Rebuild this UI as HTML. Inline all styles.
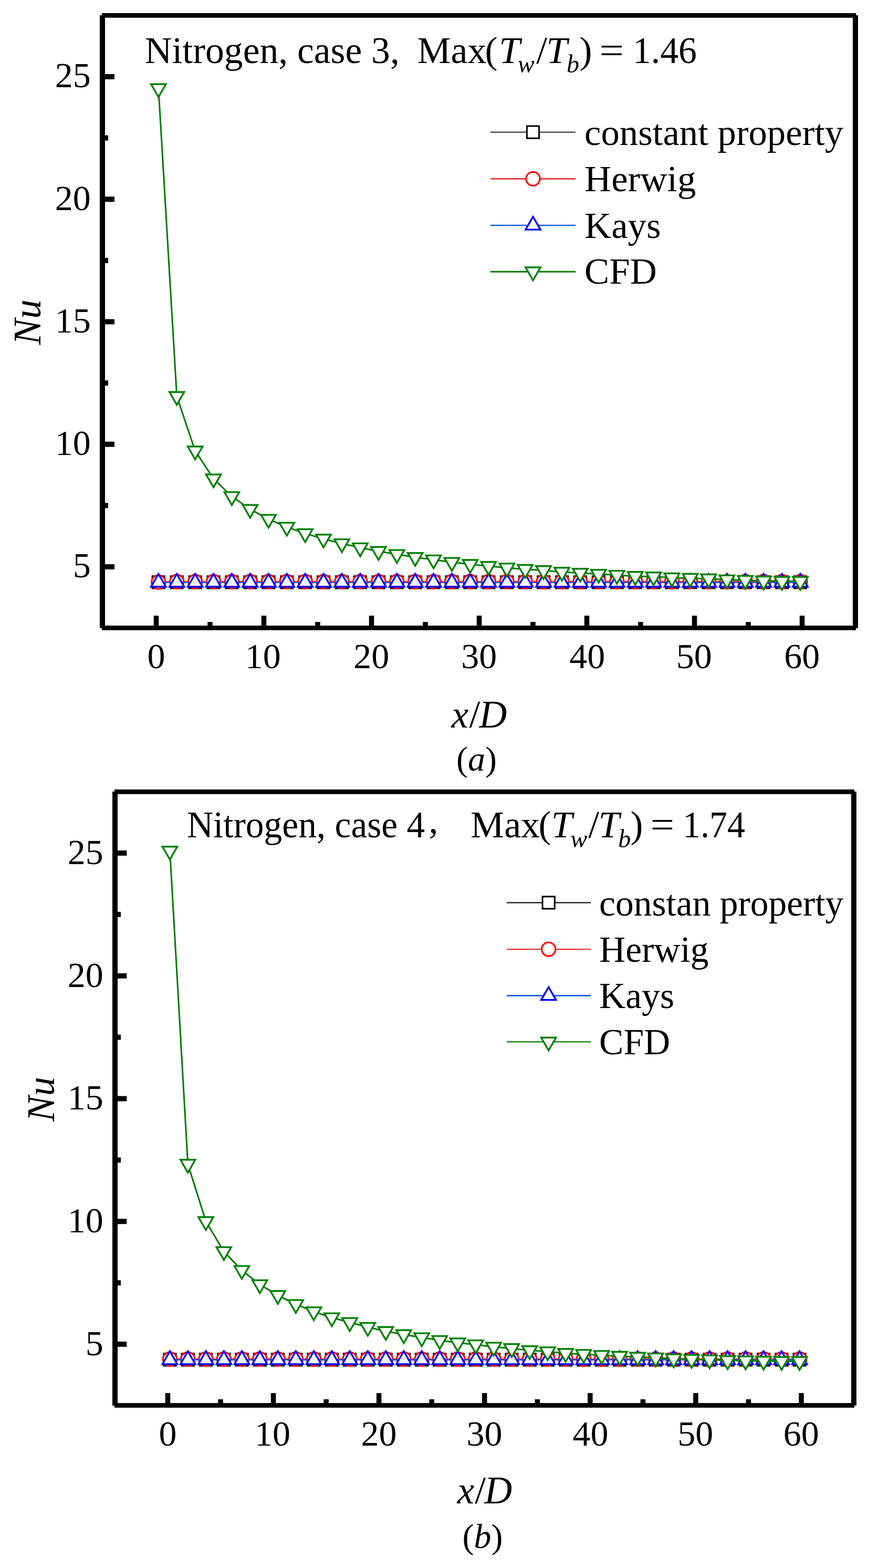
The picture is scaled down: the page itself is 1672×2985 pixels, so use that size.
<!DOCTYPE html>
<html><head><meta charset="utf-8"><title>Nu vs x/D</title>
<style>html,body{margin:0;padding:0;background:#fff;}svg{display:block;}</style>
</head><body>
<svg width="1672" height="2985" viewBox="0 0 1672 2985">
<rect width="1672" height="2985" fill="#fff"/>
<g font-family="'Liberation Serif', 'Times New Roman', serif" fill="#000">
<rect x="190" y="29" width="10" height="1166.7" fill="#000"/>
<rect x="1624" y="29" width="10" height="1166.7" fill="#000"/>
<rect x="194" y="25" width="1436" height="8.7" fill="#000"/>
<rect x="194" y="1191" width="1436" height="8.7" fill="#000"/>
<rect x="199" y="1074.05" width="19" height="9.9" fill="#000"/>
<rect x="199" y="840.8" width="19" height="9.9" fill="#000"/>
<rect x="199" y="607.55" width="19" height="9.9" fill="#000"/>
<rect x="199" y="374.3" width="19" height="9.9" fill="#000"/>
<rect x="199" y="141.05" width="19" height="9.9" fill="#000"/>
<rect x="199" y="957.42" width="7" height="9.9" fill="#000"/>
<rect x="199" y="724.17" width="7" height="9.9" fill="#000"/>
<rect x="199" y="490.93" width="7" height="9.9" fill="#000"/>
<rect x="199" y="257.68" width="7" height="9.9" fill="#000"/>
<rect x="292.75" y="1172" width="9.5" height="20" fill="#000"/>
<rect x="497.75" y="1172" width="9.5" height="20" fill="#000"/>
<rect x="702.75" y="1172" width="9.5" height="20" fill="#000"/>
<rect x="907.75" y="1172" width="9.5" height="20" fill="#000"/>
<rect x="1112.75" y="1172" width="9.5" height="20" fill="#000"/>
<rect x="1317.75" y="1172" width="9.5" height="20" fill="#000"/>
<rect x="1522.75" y="1172" width="9.5" height="20" fill="#000"/>
<rect x="395.25" y="1184" width="9.5" height="8" fill="#000"/>
<rect x="600.25" y="1184" width="9.5" height="8" fill="#000"/>
<rect x="805.25" y="1184" width="9.5" height="8" fill="#000"/>
<rect x="1010.25" y="1184" width="9.5" height="8" fill="#000"/>
<rect x="1215.25" y="1184" width="9.5" height="8" fill="#000"/>
<rect x="1420.25" y="1184" width="9.5" height="8" fill="#000"/>
<text x="138.72" y="1099.3" font-size="68">5</text>
<text x="104.65" y="866.05" font-size="68">10</text>
<text x="104.72" y="632.8" font-size="68">15</text>
<text x="104.65" y="399.55" font-size="68">20</text>
<text x="104.72" y="166.3" font-size="68">25</text>
<text x="280.53" y="1272.3" font-size="68">0</text>
<text x="466.83" y="1272.3" font-size="68">10</text>
<text x="673.33" y="1272.3" font-size="68">20</text>
<text x="878.19" y="1272.3" font-size="68">30</text>
<text x="1084.15" y="1272.3" font-size="68">40</text>
<text x="1287.85" y="1272.3" font-size="68">50</text>
<text x="1493.36" y="1272.3" font-size="68">60</text>
<polyline points="301.8,1108.4 1524,1108.4" fill="none" stroke="#3c3c3c" stroke-width="2.2" stroke-linejoin="round"/>
<rect x="290.2" y="1096.8" width="23.2" height="23.2" fill="#fff" stroke="#000" stroke-width="3.0"/>
<rect x="325.12" y="1096.8" width="23.2" height="23.2" fill="#fff" stroke="#000" stroke-width="3.0"/>
<rect x="360.04" y="1096.8" width="23.2" height="23.2" fill="#fff" stroke="#000" stroke-width="3.0"/>
<rect x="394.96" y="1096.8" width="23.2" height="23.2" fill="#fff" stroke="#000" stroke-width="3.0"/>
<rect x="429.88" y="1096.8" width="23.2" height="23.2" fill="#fff" stroke="#000" stroke-width="3.0"/>
<rect x="464.8" y="1096.8" width="23.2" height="23.2" fill="#fff" stroke="#000" stroke-width="3.0"/>
<rect x="499.72" y="1096.8" width="23.2" height="23.2" fill="#fff" stroke="#000" stroke-width="3.0"/>
<rect x="534.64" y="1096.8" width="23.2" height="23.2" fill="#fff" stroke="#000" stroke-width="3.0"/>
<rect x="569.56" y="1096.8" width="23.2" height="23.2" fill="#fff" stroke="#000" stroke-width="3.0"/>
<rect x="604.48" y="1096.8" width="23.2" height="23.2" fill="#fff" stroke="#000" stroke-width="3.0"/>
<rect x="639.4" y="1096.8" width="23.2" height="23.2" fill="#fff" stroke="#000" stroke-width="3.0"/>
<rect x="674.32" y="1096.8" width="23.2" height="23.2" fill="#fff" stroke="#000" stroke-width="3.0"/>
<rect x="709.24" y="1096.8" width="23.2" height="23.2" fill="#fff" stroke="#000" stroke-width="3.0"/>
<rect x="744.16" y="1096.8" width="23.2" height="23.2" fill="#fff" stroke="#000" stroke-width="3.0"/>
<rect x="779.08" y="1096.8" width="23.2" height="23.2" fill="#fff" stroke="#000" stroke-width="3.0"/>
<rect x="814" y="1096.8" width="23.2" height="23.2" fill="#fff" stroke="#000" stroke-width="3.0"/>
<rect x="848.92" y="1096.8" width="23.2" height="23.2" fill="#fff" stroke="#000" stroke-width="3.0"/>
<rect x="883.84" y="1096.8" width="23.2" height="23.2" fill="#fff" stroke="#000" stroke-width="3.0"/>
<rect x="918.76" y="1096.8" width="23.2" height="23.2" fill="#fff" stroke="#000" stroke-width="3.0"/>
<rect x="953.68" y="1096.8" width="23.2" height="23.2" fill="#fff" stroke="#000" stroke-width="3.0"/>
<rect x="988.6" y="1096.8" width="23.2" height="23.2" fill="#fff" stroke="#000" stroke-width="3.0"/>
<rect x="1023.52" y="1096.8" width="23.2" height="23.2" fill="#fff" stroke="#000" stroke-width="3.0"/>
<rect x="1058.44" y="1096.8" width="23.2" height="23.2" fill="#fff" stroke="#000" stroke-width="3.0"/>
<rect x="1093.36" y="1096.8" width="23.2" height="23.2" fill="#fff" stroke="#000" stroke-width="3.0"/>
<rect x="1128.28" y="1096.8" width="23.2" height="23.2" fill="#fff" stroke="#000" stroke-width="3.0"/>
<rect x="1163.2" y="1096.8" width="23.2" height="23.2" fill="#fff" stroke="#000" stroke-width="3.0"/>
<rect x="1198.12" y="1096.8" width="23.2" height="23.2" fill="#fff" stroke="#000" stroke-width="3.0"/>
<rect x="1233.04" y="1096.8" width="23.2" height="23.2" fill="#fff" stroke="#000" stroke-width="3.0"/>
<rect x="1267.96" y="1096.8" width="23.2" height="23.2" fill="#fff" stroke="#000" stroke-width="3.0"/>
<rect x="1302.88" y="1096.8" width="23.2" height="23.2" fill="#fff" stroke="#000" stroke-width="3.0"/>
<rect x="1337.8" y="1096.8" width="23.2" height="23.2" fill="#fff" stroke="#000" stroke-width="3.0"/>
<rect x="1372.72" y="1096.8" width="23.2" height="23.2" fill="#fff" stroke="#000" stroke-width="3.0"/>
<rect x="1407.64" y="1096.8" width="23.2" height="23.2" fill="#fff" stroke="#000" stroke-width="3.0"/>
<rect x="1442.56" y="1096.8" width="23.2" height="23.2" fill="#fff" stroke="#000" stroke-width="3.0"/>
<rect x="1477.48" y="1096.8" width="23.2" height="23.2" fill="#fff" stroke="#000" stroke-width="3.0"/>
<rect x="1512.4" y="1096.8" width="23.2" height="23.2" fill="#fff" stroke="#000" stroke-width="3.0"/>
<polyline points="301.8,1107.2 1524,1107.2" fill="none" stroke="#ee3333" stroke-width="2.4" stroke-linejoin="round"/>
<circle cx="301.8" cy="1108.2" r="13.1" fill="#fff" stroke="#ff0000" stroke-width="3.2"/>
<circle cx="336.72" cy="1107.2" r="13.1" fill="#fff" stroke="#ff0000" stroke-width="3.2"/>
<circle cx="371.64" cy="1107.2" r="13.1" fill="#fff" stroke="#ff0000" stroke-width="3.2"/>
<circle cx="406.56" cy="1107.2" r="13.1" fill="#fff" stroke="#ff0000" stroke-width="3.2"/>
<circle cx="441.48" cy="1107.2" r="13.1" fill="#fff" stroke="#ff0000" stroke-width="3.2"/>
<circle cx="476.4" cy="1107.2" r="13.1" fill="#fff" stroke="#ff0000" stroke-width="3.2"/>
<circle cx="511.32" cy="1107.2" r="13.1" fill="#fff" stroke="#ff0000" stroke-width="3.2"/>
<circle cx="546.24" cy="1107.2" r="13.1" fill="#fff" stroke="#ff0000" stroke-width="3.2"/>
<circle cx="581.16" cy="1107.2" r="13.1" fill="#fff" stroke="#ff0000" stroke-width="3.2"/>
<circle cx="616.08" cy="1107.2" r="13.1" fill="#fff" stroke="#ff0000" stroke-width="3.2"/>
<circle cx="651" cy="1107.2" r="13.1" fill="#fff" stroke="#ff0000" stroke-width="3.2"/>
<circle cx="685.92" cy="1107.2" r="13.1" fill="#fff" stroke="#ff0000" stroke-width="3.2"/>
<circle cx="720.84" cy="1107.2" r="13.1" fill="#fff" stroke="#ff0000" stroke-width="3.2"/>
<circle cx="755.76" cy="1107.2" r="13.1" fill="#fff" stroke="#ff0000" stroke-width="3.2"/>
<circle cx="790.68" cy="1107.2" r="13.1" fill="#fff" stroke="#ff0000" stroke-width="3.2"/>
<circle cx="825.6" cy="1107.2" r="13.1" fill="#fff" stroke="#ff0000" stroke-width="3.2"/>
<circle cx="860.52" cy="1107.2" r="13.1" fill="#fff" stroke="#ff0000" stroke-width="3.2"/>
<circle cx="895.44" cy="1107.2" r="13.1" fill="#fff" stroke="#ff0000" stroke-width="3.2"/>
<circle cx="930.36" cy="1107.2" r="13.1" fill="#fff" stroke="#ff0000" stroke-width="3.2"/>
<circle cx="965.28" cy="1107.2" r="13.1" fill="#fff" stroke="#ff0000" stroke-width="3.2"/>
<circle cx="1000.2" cy="1107.2" r="13.1" fill="#fff" stroke="#ff0000" stroke-width="3.2"/>
<circle cx="1035.12" cy="1107.2" r="13.1" fill="#fff" stroke="#ff0000" stroke-width="3.2"/>
<circle cx="1070.04" cy="1107.2" r="13.1" fill="#fff" stroke="#ff0000" stroke-width="3.2"/>
<circle cx="1104.96" cy="1107.2" r="13.1" fill="#fff" stroke="#ff0000" stroke-width="3.2"/>
<circle cx="1139.88" cy="1107.2" r="13.1" fill="#fff" stroke="#ff0000" stroke-width="3.2"/>
<circle cx="1174.8" cy="1107.2" r="13.1" fill="#fff" stroke="#ff0000" stroke-width="3.2"/>
<circle cx="1209.72" cy="1107.2" r="13.1" fill="#fff" stroke="#ff0000" stroke-width="3.2"/>
<circle cx="1244.64" cy="1107.2" r="13.1" fill="#fff" stroke="#ff0000" stroke-width="3.2"/>
<circle cx="1279.56" cy="1107.2" r="13.1" fill="#fff" stroke="#ff0000" stroke-width="3.2"/>
<circle cx="1314.48" cy="1107.2" r="13.1" fill="#fff" stroke="#ff0000" stroke-width="3.2"/>
<circle cx="1349.4" cy="1107.2" r="13.1" fill="#fff" stroke="#ff0000" stroke-width="3.2"/>
<circle cx="1384.32" cy="1107.2" r="13.1" fill="#fff" stroke="#ff0000" stroke-width="3.2"/>
<circle cx="1419.24" cy="1107.2" r="13.1" fill="#fff" stroke="#ff0000" stroke-width="3.2"/>
<circle cx="1454.16" cy="1107.2" r="13.1" fill="#fff" stroke="#ff0000" stroke-width="3.2"/>
<circle cx="1489.08" cy="1107.2" r="13.1" fill="#fff" stroke="#ff0000" stroke-width="3.2"/>
<circle cx="1524" cy="1107.2" r="13.1" fill="#fff" stroke="#ff0000" stroke-width="3.2"/>
<polyline points="301.8,1108.9 1524,1108.9" fill="none" stroke="#0560dc" stroke-width="2.4" stroke-linejoin="round"/>
<polygon points="301.8,1092.56 315.95,1117.07 287.65,1117.07" fill="#fff" stroke="#0000ff" stroke-width="3.4" stroke-linejoin="miter"/>
<polygon points="336.72,1092.56 350.87,1117.07 322.57,1117.07" fill="#fff" stroke="#0000ff" stroke-width="3.4" stroke-linejoin="miter"/>
<polygon points="371.64,1092.56 385.79,1117.07 357.49,1117.07" fill="#fff" stroke="#0000ff" stroke-width="3.4" stroke-linejoin="miter"/>
<polygon points="406.56,1092.56 420.71,1117.07 392.41,1117.07" fill="#fff" stroke="#0000ff" stroke-width="3.4" stroke-linejoin="miter"/>
<polygon points="441.48,1092.56 455.63,1117.07 427.33,1117.07" fill="#fff" stroke="#0000ff" stroke-width="3.4" stroke-linejoin="miter"/>
<polygon points="476.4,1092.56 490.55,1117.07 462.25,1117.07" fill="#fff" stroke="#0000ff" stroke-width="3.4" stroke-linejoin="miter"/>
<polygon points="511.32,1092.56 525.47,1117.07 497.17,1117.07" fill="#fff" stroke="#0000ff" stroke-width="3.4" stroke-linejoin="miter"/>
<polygon points="546.24,1092.56 560.39,1117.07 532.09,1117.07" fill="#fff" stroke="#0000ff" stroke-width="3.4" stroke-linejoin="miter"/>
<polygon points="581.16,1092.56 595.31,1117.07 567.01,1117.07" fill="#fff" stroke="#0000ff" stroke-width="3.4" stroke-linejoin="miter"/>
<polygon points="616.08,1092.56 630.23,1117.07 601.93,1117.07" fill="#fff" stroke="#0000ff" stroke-width="3.4" stroke-linejoin="miter"/>
<polygon points="651,1092.56 665.15,1117.07 636.85,1117.07" fill="#fff" stroke="#0000ff" stroke-width="3.4" stroke-linejoin="miter"/>
<polygon points="685.92,1092.56 700.07,1117.07 671.77,1117.07" fill="#fff" stroke="#0000ff" stroke-width="3.4" stroke-linejoin="miter"/>
<polygon points="720.84,1092.56 734.99,1117.07 706.69,1117.07" fill="#fff" stroke="#0000ff" stroke-width="3.4" stroke-linejoin="miter"/>
<polygon points="755.76,1092.56 769.91,1117.07 741.61,1117.07" fill="#fff" stroke="#0000ff" stroke-width="3.4" stroke-linejoin="miter"/>
<polygon points="790.68,1092.56 804.83,1117.07 776.53,1117.07" fill="#fff" stroke="#0000ff" stroke-width="3.4" stroke-linejoin="miter"/>
<polygon points="825.6,1092.56 839.75,1117.07 811.45,1117.07" fill="#fff" stroke="#0000ff" stroke-width="3.4" stroke-linejoin="miter"/>
<polygon points="860.52,1092.56 874.67,1117.07 846.37,1117.07" fill="#fff" stroke="#0000ff" stroke-width="3.4" stroke-linejoin="miter"/>
<polygon points="895.44,1092.56 909.59,1117.07 881.29,1117.07" fill="#fff" stroke="#0000ff" stroke-width="3.4" stroke-linejoin="miter"/>
<polygon points="930.36,1092.56 944.51,1117.07 916.21,1117.07" fill="#fff" stroke="#0000ff" stroke-width="3.4" stroke-linejoin="miter"/>
<polygon points="965.28,1092.56 979.43,1117.07 951.13,1117.07" fill="#fff" stroke="#0000ff" stroke-width="3.4" stroke-linejoin="miter"/>
<polygon points="1000.2,1092.56 1014.35,1117.07 986.05,1117.07" fill="#fff" stroke="#0000ff" stroke-width="3.4" stroke-linejoin="miter"/>
<polygon points="1035.12,1092.56 1049.27,1117.07 1020.97,1117.07" fill="#fff" stroke="#0000ff" stroke-width="3.4" stroke-linejoin="miter"/>
<polygon points="1070.04,1092.56 1084.19,1117.07 1055.89,1117.07" fill="#fff" stroke="#0000ff" stroke-width="3.4" stroke-linejoin="miter"/>
<polygon points="1104.96,1092.56 1119.11,1117.07 1090.81,1117.07" fill="#fff" stroke="#0000ff" stroke-width="3.4" stroke-linejoin="miter"/>
<polygon points="1139.88,1092.56 1154.03,1117.07 1125.73,1117.07" fill="#fff" stroke="#0000ff" stroke-width="3.4" stroke-linejoin="miter"/>
<polygon points="1174.8,1092.56 1188.95,1117.07 1160.65,1117.07" fill="#fff" stroke="#0000ff" stroke-width="3.4" stroke-linejoin="miter"/>
<polygon points="1209.72,1092.56 1223.87,1117.07 1195.57,1117.07" fill="#fff" stroke="#0000ff" stroke-width="3.4" stroke-linejoin="miter"/>
<polygon points="1244.64,1092.56 1258.79,1117.07 1230.49,1117.07" fill="#fff" stroke="#0000ff" stroke-width="3.4" stroke-linejoin="miter"/>
<polygon points="1279.56,1092.56 1293.71,1117.07 1265.41,1117.07" fill="#fff" stroke="#0000ff" stroke-width="3.4" stroke-linejoin="miter"/>
<polygon points="1314.48,1092.56 1328.63,1117.07 1300.33,1117.07" fill="#fff" stroke="#0000ff" stroke-width="3.4" stroke-linejoin="miter"/>
<polygon points="1349.4,1092.56 1363.55,1117.07 1335.25,1117.07" fill="#fff" stroke="#0000ff" stroke-width="3.4" stroke-linejoin="miter"/>
<polygon points="1384.32,1092.56 1398.47,1117.07 1370.17,1117.07" fill="#fff" stroke="#0000ff" stroke-width="3.4" stroke-linejoin="miter"/>
<polygon points="1419.24,1092.56 1433.39,1117.07 1405.09,1117.07" fill="#fff" stroke="#0000ff" stroke-width="3.4" stroke-linejoin="miter"/>
<polygon points="1454.16,1092.56 1468.31,1117.07 1440.01,1117.07" fill="#fff" stroke="#0000ff" stroke-width="3.4" stroke-linejoin="miter"/>
<polygon points="1489.08,1092.56 1503.23,1117.07 1474.93,1117.07" fill="#fff" stroke="#0000ff" stroke-width="3.4" stroke-linejoin="miter"/>
<polygon points="1524,1092.56 1538.15,1117.07 1509.85,1117.07" fill="#fff" stroke="#0000ff" stroke-width="3.4" stroke-linejoin="miter"/>
<polyline points="301.8,168.47 336.72,754.37 371.64,858.17 406.56,911.37 441.48,945.07 476.4,969.37 511.32,988.27 546.24,1003.27 581.16,1015.57 616.08,1025.87 651,1034.77 685.92,1042.57 720.84,1049.47 755.76,1055.27 790.68,1060.87 825.6,1065.57 860.52,1070.27 895.44,1074.17 930.36,1077.87 965.28,1081.07 1000.2,1083.67 1035.12,1085.87 1070.04,1088.97 1104.96,1090.87 1139.88,1092.87 1174.8,1094.77 1209.72,1096.97 1244.64,1097.87 1279.56,1099.67 1314.48,1100.67 1349.4,1101.67 1384.32,1103.57 1419.24,1104.57 1454.16,1105.67 1489.08,1106.47 1524,1106.47" fill="none" stroke="#007a00" stroke-width="3.0" stroke-linejoin="round"/>
<polygon points="301.8,184.81 315.95,160.3 287.65,160.3" fill="#fff" stroke="#008000" stroke-width="3.4" stroke-linejoin="miter"/>
<polygon points="336.72,770.71 350.87,746.2 322.57,746.2" fill="#fff" stroke="#008000" stroke-width="3.4" stroke-linejoin="miter"/>
<polygon points="371.64,874.51 385.79,850 357.49,850" fill="#fff" stroke="#008000" stroke-width="3.4" stroke-linejoin="miter"/>
<polygon points="406.56,927.71 420.71,903.2 392.41,903.2" fill="#fff" stroke="#008000" stroke-width="3.4" stroke-linejoin="miter"/>
<polygon points="441.48,961.41 455.63,936.9 427.33,936.9" fill="#fff" stroke="#008000" stroke-width="3.4" stroke-linejoin="miter"/>
<polygon points="476.4,985.71 490.55,961.2 462.25,961.2" fill="#fff" stroke="#008000" stroke-width="3.4" stroke-linejoin="miter"/>
<polygon points="511.32,1004.61 525.47,980.1 497.17,980.1" fill="#fff" stroke="#008000" stroke-width="3.4" stroke-linejoin="miter"/>
<polygon points="546.24,1019.61 560.39,995.1 532.09,995.1" fill="#fff" stroke="#008000" stroke-width="3.4" stroke-linejoin="miter"/>
<polygon points="581.16,1031.91 595.31,1007.4 567.01,1007.4" fill="#fff" stroke="#008000" stroke-width="3.4" stroke-linejoin="miter"/>
<polygon points="616.08,1042.21 630.23,1017.7 601.93,1017.7" fill="#fff" stroke="#008000" stroke-width="3.4" stroke-linejoin="miter"/>
<polygon points="651,1051.11 665.15,1026.6 636.85,1026.6" fill="#fff" stroke="#008000" stroke-width="3.4" stroke-linejoin="miter"/>
<polygon points="685.92,1058.91 700.07,1034.4 671.77,1034.4" fill="#fff" stroke="#008000" stroke-width="3.4" stroke-linejoin="miter"/>
<polygon points="720.84,1065.81 734.99,1041.3 706.69,1041.3" fill="#fff" stroke="#008000" stroke-width="3.4" stroke-linejoin="miter"/>
<polygon points="755.76,1071.61 769.91,1047.1 741.61,1047.1" fill="#fff" stroke="#008000" stroke-width="3.4" stroke-linejoin="miter"/>
<polygon points="790.68,1077.21 804.83,1052.7 776.53,1052.7" fill="#fff" stroke="#008000" stroke-width="3.4" stroke-linejoin="miter"/>
<polygon points="825.6,1081.91 839.75,1057.4 811.45,1057.4" fill="#fff" stroke="#008000" stroke-width="3.4" stroke-linejoin="miter"/>
<polygon points="860.52,1086.61 874.67,1062.1 846.37,1062.1" fill="#fff" stroke="#008000" stroke-width="3.4" stroke-linejoin="miter"/>
<polygon points="895.44,1090.51 909.59,1066 881.29,1066" fill="#fff" stroke="#008000" stroke-width="3.4" stroke-linejoin="miter"/>
<polygon points="930.36,1094.21 944.51,1069.7 916.21,1069.7" fill="#fff" stroke="#008000" stroke-width="3.4" stroke-linejoin="miter"/>
<polygon points="965.28,1097.41 979.43,1072.9 951.13,1072.9" fill="#fff" stroke="#008000" stroke-width="3.4" stroke-linejoin="miter"/>
<polygon points="1000.2,1100.01 1014.35,1075.5 986.05,1075.5" fill="#fff" stroke="#008000" stroke-width="3.4" stroke-linejoin="miter"/>
<polygon points="1035.12,1102.21 1049.27,1077.7 1020.97,1077.7" fill="#fff" stroke="#008000" stroke-width="3.4" stroke-linejoin="miter"/>
<polygon points="1070.04,1105.31 1084.19,1080.8 1055.89,1080.8" fill="#fff" stroke="#008000" stroke-width="3.4" stroke-linejoin="miter"/>
<polygon points="1104.96,1107.21 1119.11,1082.7 1090.81,1082.7" fill="#fff" stroke="#008000" stroke-width="3.4" stroke-linejoin="miter"/>
<polygon points="1139.88,1109.21 1154.03,1084.7 1125.73,1084.7" fill="#fff" stroke="#008000" stroke-width="3.4" stroke-linejoin="miter"/>
<polygon points="1174.8,1111.11 1188.95,1086.6 1160.65,1086.6" fill="#fff" stroke="#008000" stroke-width="3.4" stroke-linejoin="miter"/>
<polygon points="1209.72,1113.31 1223.87,1088.8 1195.57,1088.8" fill="#fff" stroke="#008000" stroke-width="3.4" stroke-linejoin="miter"/>
<polygon points="1244.64,1114.21 1258.79,1089.7 1230.49,1089.7" fill="#fff" stroke="#008000" stroke-width="3.4" stroke-linejoin="miter"/>
<polygon points="1279.56,1116.01 1293.71,1091.5 1265.41,1091.5" fill="#fff" stroke="#008000" stroke-width="3.4" stroke-linejoin="miter"/>
<polygon points="1314.48,1117.01 1328.63,1092.5 1300.33,1092.5" fill="#fff" stroke="#008000" stroke-width="3.4" stroke-linejoin="miter"/>
<polygon points="1349.4,1118.01 1363.55,1093.5 1335.25,1093.5" fill="#fff" stroke="#008000" stroke-width="3.4" stroke-linejoin="miter"/>
<polygon points="1384.32,1119.91 1398.47,1095.4 1370.17,1095.4" fill="#fff" stroke="#008000" stroke-width="3.4" stroke-linejoin="miter"/>
<polygon points="1419.24,1120.91 1433.39,1096.4 1405.09,1096.4" fill="#fff" stroke="#008000" stroke-width="3.4" stroke-linejoin="miter"/>
<polygon points="1454.16,1122.01 1468.31,1097.5 1440.01,1097.5" fill="#fff" stroke="#008000" stroke-width="3.4" stroke-linejoin="miter"/>
<polygon points="1489.08,1122.81 1503.23,1098.3 1474.93,1098.3" fill="#fff" stroke="#008000" stroke-width="3.4" stroke-linejoin="miter"/>
<polygon points="1524,1122.81 1538.15,1098.3 1509.85,1098.3" fill="#fff" stroke="#008000" stroke-width="3.4" stroke-linejoin="miter"/>
<polyline points="933.9,251.6 1096,251.6" fill="none" stroke="#3c3c3c" stroke-width="2.4" stroke-linejoin="round"/>
<rect x="1003.4" y="240" width="23.2" height="23.2" fill="#fff" stroke="#000" stroke-width="3.0"/>
<polyline points="933.9,340.4 1096,340.4" fill="none" stroke="#ee3333" stroke-width="2.9" stroke-linejoin="round"/>
<circle cx="1015" cy="340.4" r="13.1" fill="#fff" stroke="#ff0000" stroke-width="3.2"/>
<polyline points="933.9,429 1096,429" fill="none" stroke="#0560dc" stroke-width="2.5" stroke-linejoin="round"/>
<polygon points="1015,412.66 1029.15,437.17 1000.85,437.17" fill="#fff" stroke="#0000ff" stroke-width="3.4" stroke-linejoin="miter"/>
<polyline points="933.9,517.2 1096,517.2" fill="none" stroke="#007a00" stroke-width="3.1" stroke-linejoin="round"/>
<polygon points="1015,533.54 1029.15,509.03 1000.85,509.03" fill="#fff" stroke="#008000" stroke-width="3.4" stroke-linejoin="miter"/>
<text x="1113.1" y="276.4" font-size="70.75">constant property</text>
<text x="1113.1" y="364.2" font-size="70.75">Herwig</text>
<text x="1113.1" y="453.2" font-size="70.75">Kays</text>
<text x="1113.1" y="539.7" font-size="70.75">CFD</text>
<rect x="214" y="1506.9" width="10" height="1168.9" fill="#000"/>
<rect x="1620.9" y="1506.9" width="10" height="1168.9" fill="#000"/>
<rect x="218" y="1502.9" width="1408.9" height="8.8" fill="#000"/>
<rect x="218" y="2671" width="1408.9" height="8.8" fill="#000"/>
<rect x="223" y="2554.05" width="18.3" height="9.9" fill="#000"/>
<rect x="223" y="2320.3" width="18.3" height="9.9" fill="#000"/>
<rect x="223" y="2086.55" width="18.3" height="9.9" fill="#000"/>
<rect x="223" y="1852.8" width="18.3" height="9.9" fill="#000"/>
<rect x="223" y="1619.05" width="18.3" height="9.9" fill="#000"/>
<rect x="223" y="2437.18" width="7" height="9.9" fill="#000"/>
<rect x="223" y="2203.43" width="7" height="9.9" fill="#000"/>
<rect x="223" y="1969.67" width="7" height="9.9" fill="#000"/>
<rect x="223" y="1735.92" width="7" height="9.9" fill="#000"/>
<rect x="314.75" y="2652" width="9.5" height="20" fill="#000"/>
<rect x="515.83" y="2652" width="9.5" height="20" fill="#000"/>
<rect x="716.91" y="2652" width="9.5" height="20" fill="#000"/>
<rect x="917.99" y="2652" width="9.5" height="20" fill="#000"/>
<rect x="1119.07" y="2652" width="9.5" height="20" fill="#000"/>
<rect x="1320.15" y="2652" width="9.5" height="20" fill="#000"/>
<rect x="1521.23" y="2652" width="9.5" height="20" fill="#000"/>
<rect x="415.29" y="2663.8" width="9.5" height="8.2" fill="#000"/>
<rect x="616.37" y="2663.8" width="9.5" height="8.2" fill="#000"/>
<rect x="817.45" y="2663.8" width="9.5" height="8.2" fill="#000"/>
<rect x="1018.53" y="2663.8" width="9.5" height="8.2" fill="#000"/>
<rect x="1219.61" y="2663.8" width="9.5" height="8.2" fill="#000"/>
<rect x="1420.69" y="2663.8" width="9.5" height="8.2" fill="#000"/>
<text x="162.72" y="2579.8" font-size="68">5</text>
<text x="128.65" y="2346.05" font-size="68">10</text>
<text x="128.72" y="2112.3" font-size="68">15</text>
<text x="128.65" y="1878.55" font-size="68">20</text>
<text x="128.72" y="1644.8" font-size="68">25</text>
<text x="302.53" y="2752.3" font-size="68">0</text>
<text x="484.91" y="2752.3" font-size="68">10</text>
<text x="687.49" y="2752.3" font-size="68">20</text>
<text x="888.43" y="2752.3" font-size="68">30</text>
<text x="1090.47" y="2752.3" font-size="68">40</text>
<text x="1290.25" y="2752.3" font-size="68">50</text>
<text x="1491.84" y="2752.3" font-size="68">60</text>
<polyline points="323.5,2588.4 1522.6,2588.4" fill="none" stroke="#3c3c3c" stroke-width="2.2" stroke-linejoin="round"/>
<rect x="311.9" y="2576.8" width="23.2" height="23.2" fill="#fff" stroke="#000" stroke-width="3.0"/>
<rect x="346.16" y="2576.8" width="23.2" height="23.2" fill="#fff" stroke="#000" stroke-width="3.0"/>
<rect x="380.42" y="2576.8" width="23.2" height="23.2" fill="#fff" stroke="#000" stroke-width="3.0"/>
<rect x="414.68" y="2576.8" width="23.2" height="23.2" fill="#fff" stroke="#000" stroke-width="3.0"/>
<rect x="448.94" y="2576.8" width="23.2" height="23.2" fill="#fff" stroke="#000" stroke-width="3.0"/>
<rect x="483.2" y="2576.8" width="23.2" height="23.2" fill="#fff" stroke="#000" stroke-width="3.0"/>
<rect x="517.46" y="2576.8" width="23.2" height="23.2" fill="#fff" stroke="#000" stroke-width="3.0"/>
<rect x="551.72" y="2576.8" width="23.2" height="23.2" fill="#fff" stroke="#000" stroke-width="3.0"/>
<rect x="585.98" y="2576.8" width="23.2" height="23.2" fill="#fff" stroke="#000" stroke-width="3.0"/>
<rect x="620.24" y="2576.8" width="23.2" height="23.2" fill="#fff" stroke="#000" stroke-width="3.0"/>
<rect x="654.5" y="2576.8" width="23.2" height="23.2" fill="#fff" stroke="#000" stroke-width="3.0"/>
<rect x="688.76" y="2576.8" width="23.2" height="23.2" fill="#fff" stroke="#000" stroke-width="3.0"/>
<rect x="723.02" y="2576.8" width="23.2" height="23.2" fill="#fff" stroke="#000" stroke-width="3.0"/>
<rect x="757.28" y="2576.8" width="23.2" height="23.2" fill="#fff" stroke="#000" stroke-width="3.0"/>
<rect x="791.54" y="2576.8" width="23.2" height="23.2" fill="#fff" stroke="#000" stroke-width="3.0"/>
<rect x="825.8" y="2576.8" width="23.2" height="23.2" fill="#fff" stroke="#000" stroke-width="3.0"/>
<rect x="860.06" y="2576.8" width="23.2" height="23.2" fill="#fff" stroke="#000" stroke-width="3.0"/>
<rect x="894.32" y="2576.8" width="23.2" height="23.2" fill="#fff" stroke="#000" stroke-width="3.0"/>
<rect x="928.58" y="2576.8" width="23.2" height="23.2" fill="#fff" stroke="#000" stroke-width="3.0"/>
<rect x="962.84" y="2576.8" width="23.2" height="23.2" fill="#fff" stroke="#000" stroke-width="3.0"/>
<rect x="997.1" y="2576.8" width="23.2" height="23.2" fill="#fff" stroke="#000" stroke-width="3.0"/>
<rect x="1031.36" y="2576.8" width="23.2" height="23.2" fill="#fff" stroke="#000" stroke-width="3.0"/>
<rect x="1065.62" y="2576.8" width="23.2" height="23.2" fill="#fff" stroke="#000" stroke-width="3.0"/>
<rect x="1099.88" y="2576.8" width="23.2" height="23.2" fill="#fff" stroke="#000" stroke-width="3.0"/>
<rect x="1134.14" y="2576.8" width="23.2" height="23.2" fill="#fff" stroke="#000" stroke-width="3.0"/>
<rect x="1168.4" y="2576.8" width="23.2" height="23.2" fill="#fff" stroke="#000" stroke-width="3.0"/>
<rect x="1202.66" y="2576.8" width="23.2" height="23.2" fill="#fff" stroke="#000" stroke-width="3.0"/>
<rect x="1236.92" y="2576.8" width="23.2" height="23.2" fill="#fff" stroke="#000" stroke-width="3.0"/>
<rect x="1271.18" y="2576.8" width="23.2" height="23.2" fill="#fff" stroke="#000" stroke-width="3.0"/>
<rect x="1305.44" y="2576.8" width="23.2" height="23.2" fill="#fff" stroke="#000" stroke-width="3.0"/>
<rect x="1339.7" y="2576.8" width="23.2" height="23.2" fill="#fff" stroke="#000" stroke-width="3.0"/>
<rect x="1373.96" y="2576.8" width="23.2" height="23.2" fill="#fff" stroke="#000" stroke-width="3.0"/>
<rect x="1408.22" y="2576.8" width="23.2" height="23.2" fill="#fff" stroke="#000" stroke-width="3.0"/>
<rect x="1442.48" y="2576.8" width="23.2" height="23.2" fill="#fff" stroke="#000" stroke-width="3.0"/>
<rect x="1476.74" y="2576.8" width="23.2" height="23.2" fill="#fff" stroke="#000" stroke-width="3.0"/>
<rect x="1511" y="2576.8" width="23.2" height="23.2" fill="#fff" stroke="#000" stroke-width="3.0"/>
<polyline points="323.5,2587.2 1522.6,2587.2" fill="none" stroke="#ee3333" stroke-width="2.4" stroke-linejoin="round"/>
<circle cx="323.5" cy="2587.2" r="13.1" fill="#fff" stroke="#ff0000" stroke-width="3.2"/>
<circle cx="357.76" cy="2587.2" r="13.1" fill="#fff" stroke="#ff0000" stroke-width="3.2"/>
<circle cx="392.02" cy="2587.2" r="13.1" fill="#fff" stroke="#ff0000" stroke-width="3.2"/>
<circle cx="426.28" cy="2587.2" r="13.1" fill="#fff" stroke="#ff0000" stroke-width="3.2"/>
<circle cx="460.54" cy="2587.2" r="13.1" fill="#fff" stroke="#ff0000" stroke-width="3.2"/>
<circle cx="494.8" cy="2587.2" r="13.1" fill="#fff" stroke="#ff0000" stroke-width="3.2"/>
<circle cx="529.06" cy="2587.2" r="13.1" fill="#fff" stroke="#ff0000" stroke-width="3.2"/>
<circle cx="563.32" cy="2587.2" r="13.1" fill="#fff" stroke="#ff0000" stroke-width="3.2"/>
<circle cx="597.58" cy="2587.2" r="13.1" fill="#fff" stroke="#ff0000" stroke-width="3.2"/>
<circle cx="631.84" cy="2587.2" r="13.1" fill="#fff" stroke="#ff0000" stroke-width="3.2"/>
<circle cx="666.1" cy="2587.2" r="13.1" fill="#fff" stroke="#ff0000" stroke-width="3.2"/>
<circle cx="700.36" cy="2587.2" r="13.1" fill="#fff" stroke="#ff0000" stroke-width="3.2"/>
<circle cx="734.62" cy="2587.2" r="13.1" fill="#fff" stroke="#ff0000" stroke-width="3.2"/>
<circle cx="768.88" cy="2587.2" r="13.1" fill="#fff" stroke="#ff0000" stroke-width="3.2"/>
<circle cx="803.14" cy="2587.2" r="13.1" fill="#fff" stroke="#ff0000" stroke-width="3.2"/>
<circle cx="837.4" cy="2587.2" r="13.1" fill="#fff" stroke="#ff0000" stroke-width="3.2"/>
<circle cx="871.66" cy="2587.2" r="13.1" fill="#fff" stroke="#ff0000" stroke-width="3.2"/>
<circle cx="905.92" cy="2587.2" r="13.1" fill="#fff" stroke="#ff0000" stroke-width="3.2"/>
<circle cx="940.18" cy="2587.2" r="13.1" fill="#fff" stroke="#ff0000" stroke-width="3.2"/>
<circle cx="974.44" cy="2587.2" r="13.1" fill="#fff" stroke="#ff0000" stroke-width="3.2"/>
<circle cx="1008.7" cy="2587.2" r="13.1" fill="#fff" stroke="#ff0000" stroke-width="3.2"/>
<circle cx="1042.96" cy="2587.2" r="13.1" fill="#fff" stroke="#ff0000" stroke-width="3.2"/>
<circle cx="1077.22" cy="2587.2" r="13.1" fill="#fff" stroke="#ff0000" stroke-width="3.2"/>
<circle cx="1111.48" cy="2587.2" r="13.1" fill="#fff" stroke="#ff0000" stroke-width="3.2"/>
<circle cx="1145.74" cy="2587.2" r="13.1" fill="#fff" stroke="#ff0000" stroke-width="3.2"/>
<circle cx="1180" cy="2587.2" r="13.1" fill="#fff" stroke="#ff0000" stroke-width="3.2"/>
<circle cx="1214.26" cy="2587.2" r="13.1" fill="#fff" stroke="#ff0000" stroke-width="3.2"/>
<circle cx="1248.52" cy="2587.2" r="13.1" fill="#fff" stroke="#ff0000" stroke-width="3.2"/>
<circle cx="1282.78" cy="2587.2" r="13.1" fill="#fff" stroke="#ff0000" stroke-width="3.2"/>
<circle cx="1317.04" cy="2587.2" r="13.1" fill="#fff" stroke="#ff0000" stroke-width="3.2"/>
<circle cx="1351.3" cy="2587.2" r="13.1" fill="#fff" stroke="#ff0000" stroke-width="3.2"/>
<circle cx="1385.56" cy="2587.2" r="13.1" fill="#fff" stroke="#ff0000" stroke-width="3.2"/>
<circle cx="1419.82" cy="2587.2" r="13.1" fill="#fff" stroke="#ff0000" stroke-width="3.2"/>
<circle cx="1454.08" cy="2587.2" r="13.1" fill="#fff" stroke="#ff0000" stroke-width="3.2"/>
<circle cx="1488.34" cy="2587.2" r="13.1" fill="#fff" stroke="#ff0000" stroke-width="3.2"/>
<circle cx="1522.6" cy="2587.2" r="13.1" fill="#fff" stroke="#ff0000" stroke-width="3.2"/>
<polyline points="323.5,2588.8 1522.6,2588.8" fill="none" stroke="#0560dc" stroke-width="2.4" stroke-linejoin="round"/>
<polygon points="323.5,2572.46 337.65,2596.97 309.35,2596.97" fill="#fff" stroke="#0000ff" stroke-width="3.4" stroke-linejoin="miter"/>
<polygon points="357.76,2572.46 371.91,2596.97 343.61,2596.97" fill="#fff" stroke="#0000ff" stroke-width="3.4" stroke-linejoin="miter"/>
<polygon points="392.02,2572.46 406.17,2596.97 377.87,2596.97" fill="#fff" stroke="#0000ff" stroke-width="3.4" stroke-linejoin="miter"/>
<polygon points="426.28,2572.46 440.43,2596.97 412.13,2596.97" fill="#fff" stroke="#0000ff" stroke-width="3.4" stroke-linejoin="miter"/>
<polygon points="460.54,2572.46 474.69,2596.97 446.39,2596.97" fill="#fff" stroke="#0000ff" stroke-width="3.4" stroke-linejoin="miter"/>
<polygon points="494.8,2572.46 508.95,2596.97 480.65,2596.97" fill="#fff" stroke="#0000ff" stroke-width="3.4" stroke-linejoin="miter"/>
<polygon points="529.06,2572.46 543.21,2596.97 514.91,2596.97" fill="#fff" stroke="#0000ff" stroke-width="3.4" stroke-linejoin="miter"/>
<polygon points="563.32,2572.46 577.47,2596.97 549.17,2596.97" fill="#fff" stroke="#0000ff" stroke-width="3.4" stroke-linejoin="miter"/>
<polygon points="597.58,2572.46 611.73,2596.97 583.43,2596.97" fill="#fff" stroke="#0000ff" stroke-width="3.4" stroke-linejoin="miter"/>
<polygon points="631.84,2572.46 645.99,2596.97 617.69,2596.97" fill="#fff" stroke="#0000ff" stroke-width="3.4" stroke-linejoin="miter"/>
<polygon points="666.1,2572.46 680.25,2596.97 651.95,2596.97" fill="#fff" stroke="#0000ff" stroke-width="3.4" stroke-linejoin="miter"/>
<polygon points="700.36,2572.46 714.51,2596.97 686.21,2596.97" fill="#fff" stroke="#0000ff" stroke-width="3.4" stroke-linejoin="miter"/>
<polygon points="734.62,2572.46 748.77,2596.97 720.47,2596.97" fill="#fff" stroke="#0000ff" stroke-width="3.4" stroke-linejoin="miter"/>
<polygon points="768.88,2572.46 783.03,2596.97 754.73,2596.97" fill="#fff" stroke="#0000ff" stroke-width="3.4" stroke-linejoin="miter"/>
<polygon points="803.14,2572.46 817.29,2596.97 788.99,2596.97" fill="#fff" stroke="#0000ff" stroke-width="3.4" stroke-linejoin="miter"/>
<polygon points="837.4,2572.46 851.55,2596.97 823.25,2596.97" fill="#fff" stroke="#0000ff" stroke-width="3.4" stroke-linejoin="miter"/>
<polygon points="871.66,2572.46 885.81,2596.97 857.51,2596.97" fill="#fff" stroke="#0000ff" stroke-width="3.4" stroke-linejoin="miter"/>
<polygon points="905.92,2572.46 920.07,2596.97 891.77,2596.97" fill="#fff" stroke="#0000ff" stroke-width="3.4" stroke-linejoin="miter"/>
<polygon points="940.18,2572.46 954.33,2596.97 926.03,2596.97" fill="#fff" stroke="#0000ff" stroke-width="3.4" stroke-linejoin="miter"/>
<polygon points="974.44,2572.46 988.59,2596.97 960.29,2596.97" fill="#fff" stroke="#0000ff" stroke-width="3.4" stroke-linejoin="miter"/>
<polygon points="1008.7,2572.46 1022.85,2596.97 994.55,2596.97" fill="#fff" stroke="#0000ff" stroke-width="3.4" stroke-linejoin="miter"/>
<polygon points="1042.96,2572.46 1057.11,2596.97 1028.81,2596.97" fill="#fff" stroke="#0000ff" stroke-width="3.4" stroke-linejoin="miter"/>
<polygon points="1077.22,2572.46 1091.37,2596.97 1063.07,2596.97" fill="#fff" stroke="#0000ff" stroke-width="3.4" stroke-linejoin="miter"/>
<polygon points="1111.48,2572.46 1125.63,2596.97 1097.33,2596.97" fill="#fff" stroke="#0000ff" stroke-width="3.4" stroke-linejoin="miter"/>
<polygon points="1145.74,2572.46 1159.89,2596.97 1131.59,2596.97" fill="#fff" stroke="#0000ff" stroke-width="3.4" stroke-linejoin="miter"/>
<polygon points="1180,2572.46 1194.15,2596.97 1165.85,2596.97" fill="#fff" stroke="#0000ff" stroke-width="3.4" stroke-linejoin="miter"/>
<polygon points="1214.26,2572.46 1228.41,2596.97 1200.11,2596.97" fill="#fff" stroke="#0000ff" stroke-width="3.4" stroke-linejoin="miter"/>
<polygon points="1248.52,2572.46 1262.67,2596.97 1234.37,2596.97" fill="#fff" stroke="#0000ff" stroke-width="3.4" stroke-linejoin="miter"/>
<polygon points="1282.78,2572.46 1296.93,2596.97 1268.63,2596.97" fill="#fff" stroke="#0000ff" stroke-width="3.4" stroke-linejoin="miter"/>
<polygon points="1317.04,2572.46 1331.19,2596.97 1302.89,2596.97" fill="#fff" stroke="#0000ff" stroke-width="3.4" stroke-linejoin="miter"/>
<polygon points="1351.3,2572.46 1365.45,2596.97 1337.15,2596.97" fill="#fff" stroke="#0000ff" stroke-width="3.4" stroke-linejoin="miter"/>
<polygon points="1385.56,2572.46 1399.71,2596.97 1371.41,2596.97" fill="#fff" stroke="#0000ff" stroke-width="3.4" stroke-linejoin="miter"/>
<polygon points="1419.82,2572.46 1433.97,2596.97 1405.67,2596.97" fill="#fff" stroke="#0000ff" stroke-width="3.4" stroke-linejoin="miter"/>
<polygon points="1454.08,2572.46 1468.23,2596.97 1439.93,2596.97" fill="#fff" stroke="#0000ff" stroke-width="3.4" stroke-linejoin="miter"/>
<polygon points="1488.34,2572.46 1502.49,2596.97 1474.19,2596.97" fill="#fff" stroke="#0000ff" stroke-width="3.4" stroke-linejoin="miter"/>
<polygon points="1522.6,2572.46 1536.75,2596.97 1508.45,2596.97" fill="#fff" stroke="#0000ff" stroke-width="3.4" stroke-linejoin="miter"/>
<polyline points="323.5,1619.97 357.76,2215.97 392.02,2325.17 426.28,2382.37 460.54,2418.27 494.8,2445.37 529.06,2465.87 563.32,2483.07 597.58,2496.97 631.84,2508.27 666.1,2517.47 700.36,2526.57 734.62,2534.37 768.88,2540.47 803.14,2546.27 837.4,2551.57 871.66,2556.17 905.92,2559.77 940.18,2564.27 974.44,2566.97 1008.7,2570.87 1042.96,2573.07 1077.22,2576.17 1111.48,2578.07 1145.74,2580.07 1180,2581.67 1214.26,2583.37 1248.52,2584.77 1282.78,2586.47 1317.04,2587.57 1351.3,2588.57 1385.56,2589.97 1419.82,2590.47 1454.08,2591.07 1488.34,2591.47 1522.6,2591.47" fill="none" stroke="#007a00" stroke-width="3.0" stroke-linejoin="round"/>
<polygon points="323.5,1636.31 337.65,1611.8 309.35,1611.8" fill="#fff" stroke="#008000" stroke-width="3.4" stroke-linejoin="miter"/>
<polygon points="357.76,2232.31 371.91,2207.8 343.61,2207.8" fill="#fff" stroke="#008000" stroke-width="3.4" stroke-linejoin="miter"/>
<polygon points="392.02,2341.51 406.17,2317 377.87,2317" fill="#fff" stroke="#008000" stroke-width="3.4" stroke-linejoin="miter"/>
<polygon points="426.28,2398.71 440.43,2374.2 412.13,2374.2" fill="#fff" stroke="#008000" stroke-width="3.4" stroke-linejoin="miter"/>
<polygon points="460.54,2434.61 474.69,2410.1 446.39,2410.1" fill="#fff" stroke="#008000" stroke-width="3.4" stroke-linejoin="miter"/>
<polygon points="494.8,2461.71 508.95,2437.2 480.65,2437.2" fill="#fff" stroke="#008000" stroke-width="3.4" stroke-linejoin="miter"/>
<polygon points="529.06,2482.21 543.21,2457.7 514.91,2457.7" fill="#fff" stroke="#008000" stroke-width="3.4" stroke-linejoin="miter"/>
<polygon points="563.32,2499.41 577.47,2474.9 549.17,2474.9" fill="#fff" stroke="#008000" stroke-width="3.4" stroke-linejoin="miter"/>
<polygon points="597.58,2513.31 611.73,2488.8 583.43,2488.8" fill="#fff" stroke="#008000" stroke-width="3.4" stroke-linejoin="miter"/>
<polygon points="631.84,2524.61 645.99,2500.1 617.69,2500.1" fill="#fff" stroke="#008000" stroke-width="3.4" stroke-linejoin="miter"/>
<polygon points="666.1,2533.81 680.25,2509.3 651.95,2509.3" fill="#fff" stroke="#008000" stroke-width="3.4" stroke-linejoin="miter"/>
<polygon points="700.36,2542.91 714.51,2518.4 686.21,2518.4" fill="#fff" stroke="#008000" stroke-width="3.4" stroke-linejoin="miter"/>
<polygon points="734.62,2550.71 748.77,2526.2 720.47,2526.2" fill="#fff" stroke="#008000" stroke-width="3.4" stroke-linejoin="miter"/>
<polygon points="768.88,2556.81 783.03,2532.3 754.73,2532.3" fill="#fff" stroke="#008000" stroke-width="3.4" stroke-linejoin="miter"/>
<polygon points="803.14,2562.61 817.29,2538.1 788.99,2538.1" fill="#fff" stroke="#008000" stroke-width="3.4" stroke-linejoin="miter"/>
<polygon points="837.4,2567.91 851.55,2543.4 823.25,2543.4" fill="#fff" stroke="#008000" stroke-width="3.4" stroke-linejoin="miter"/>
<polygon points="871.66,2572.51 885.81,2548 857.51,2548" fill="#fff" stroke="#008000" stroke-width="3.4" stroke-linejoin="miter"/>
<polygon points="905.92,2576.11 920.07,2551.6 891.77,2551.6" fill="#fff" stroke="#008000" stroke-width="3.4" stroke-linejoin="miter"/>
<polygon points="940.18,2580.61 954.33,2556.1 926.03,2556.1" fill="#fff" stroke="#008000" stroke-width="3.4" stroke-linejoin="miter"/>
<polygon points="974.44,2583.31 988.59,2558.8 960.29,2558.8" fill="#fff" stroke="#008000" stroke-width="3.4" stroke-linejoin="miter"/>
<polygon points="1008.7,2587.21 1022.85,2562.7 994.55,2562.7" fill="#fff" stroke="#008000" stroke-width="3.4" stroke-linejoin="miter"/>
<polygon points="1042.96,2589.41 1057.11,2564.9 1028.81,2564.9" fill="#fff" stroke="#008000" stroke-width="3.4" stroke-linejoin="miter"/>
<polygon points="1077.22,2592.51 1091.37,2568 1063.07,2568" fill="#fff" stroke="#008000" stroke-width="3.4" stroke-linejoin="miter"/>
<polygon points="1111.48,2594.41 1125.63,2569.9 1097.33,2569.9" fill="#fff" stroke="#008000" stroke-width="3.4" stroke-linejoin="miter"/>
<polygon points="1145.74,2596.41 1159.89,2571.9 1131.59,2571.9" fill="#fff" stroke="#008000" stroke-width="3.4" stroke-linejoin="miter"/>
<polygon points="1180,2598.01 1194.15,2573.5 1165.85,2573.5" fill="#fff" stroke="#008000" stroke-width="3.4" stroke-linejoin="miter"/>
<polygon points="1214.26,2599.71 1228.41,2575.2 1200.11,2575.2" fill="#fff" stroke="#008000" stroke-width="3.4" stroke-linejoin="miter"/>
<polygon points="1248.52,2601.11 1262.67,2576.6 1234.37,2576.6" fill="#fff" stroke="#008000" stroke-width="3.4" stroke-linejoin="miter"/>
<polygon points="1282.78,2602.81 1296.93,2578.3 1268.63,2578.3" fill="#fff" stroke="#008000" stroke-width="3.4" stroke-linejoin="miter"/>
<polygon points="1317.04,2603.91 1331.19,2579.4 1302.89,2579.4" fill="#fff" stroke="#008000" stroke-width="3.4" stroke-linejoin="miter"/>
<polygon points="1351.3,2604.91 1365.45,2580.4 1337.15,2580.4" fill="#fff" stroke="#008000" stroke-width="3.4" stroke-linejoin="miter"/>
<polygon points="1385.56,2606.31 1399.71,2581.8 1371.41,2581.8" fill="#fff" stroke="#008000" stroke-width="3.4" stroke-linejoin="miter"/>
<polygon points="1419.82,2606.81 1433.97,2582.3 1405.67,2582.3" fill="#fff" stroke="#008000" stroke-width="3.4" stroke-linejoin="miter"/>
<polygon points="1454.08,2607.41 1468.23,2582.9 1439.93,2582.9" fill="#fff" stroke="#008000" stroke-width="3.4" stroke-linejoin="miter"/>
<polygon points="1488.34,2607.81 1502.49,2583.3 1474.19,2583.3" fill="#fff" stroke="#008000" stroke-width="3.4" stroke-linejoin="miter"/>
<polygon points="1522.6,2607.81 1536.75,2583.3 1508.45,2583.3" fill="#fff" stroke="#008000" stroke-width="3.4" stroke-linejoin="miter"/>
<polyline points="965,1718.4 1125,1718.4" fill="none" stroke="#3c3c3c" stroke-width="2.6" stroke-linejoin="round"/>
<rect x="1033.1" y="1706.8" width="23.2" height="23.2" fill="#fff" stroke="#000" stroke-width="3.0"/>
<polyline points="965,1807.1 1125,1807.1" fill="none" stroke="#ee3333" stroke-width="2.1" stroke-linejoin="round"/>
<circle cx="1044.7" cy="1807.1" r="13.1" fill="#fff" stroke="#ff0000" stroke-width="3.2"/>
<polyline points="965,1895.4 1125,1895.4" fill="none" stroke="#0560dc" stroke-width="2.6" stroke-linejoin="round"/>
<polygon points="1044.7,1879.06 1058.85,1903.57 1030.55,1903.57" fill="#fff" stroke="#0000ff" stroke-width="3.4" stroke-linejoin="miter"/>
<polyline points="965,1983.4 1125,1983.4" fill="none" stroke="#007a00" stroke-width="2.2" stroke-linejoin="round"/>
<polygon points="1044.7,1999.74 1058.85,1975.23 1030.55,1975.23" fill="#fff" stroke="#008000" stroke-width="3.4" stroke-linejoin="miter"/>
<text x="1141.1" y="1743.3" font-size="69.5">constan property</text>
<text x="1141.1" y="1831.4" font-size="69.5">Herwig</text>
<text x="1141.1" y="1919" font-size="69.5">Kays</text>
<text x="1141.1" y="2007.4" font-size="69.5">CFD</text>
<text x="275.72" y="119.8" font-size="72" textLength="485.09" lengthAdjust="spacingAndGlyphs">Nitrogen, case 3,</text>
<text x="794.51" y="119.8" font-size="72">Max</text>
<text x="923.53" y="119.8" font-size="72">(</text>
<text x="950.25" y="119.8" font-size="72" font-style="italic">T</text>
<text x="985.65" y="138.3" font-size="48" font-style="italic">w</text>
<text x="1021.2" y="120.8" font-size="75">/</text>
<text x="1040.25" y="119.8" font-size="72" font-style="italic">T</text>
<text x="1079.12" y="138.3" font-size="48" font-style="italic">b</text>
<text x="1103.5" y="119.8" font-size="72">)</text>
<text x="1141.57" y="119.8" font-size="72" textLength="46.55" lengthAdjust="spacingAndGlyphs">=</text>
<text x="1204.97" y="119.8" font-size="72" textLength="122" lengthAdjust="spacingAndGlyphs">1.46</text>
<text x="355.88" y="1594" font-size="72" textLength="453.42" lengthAdjust="spacingAndGlyphs">Nitrogen, case 4</text>
<text x="816.56" y="1585" font-size="72">,</text>
<text x="896.11" y="1594" font-size="72">Max</text>
<text x="1025.53" y="1594" font-size="72">(</text>
<text x="1049.75" y="1594" font-size="72" font-style="italic">T</text>
<text x="1086.15" y="1612.5" font-size="48" font-style="italic">w</text>
<text x="1120.3" y="1595" font-size="75">/</text>
<text x="1139.45" y="1594" font-size="72" font-style="italic">T</text>
<text x="1177.22" y="1612.5" font-size="48" font-style="italic">b</text>
<text x="1200.6" y="1594" font-size="72">)</text>
<text x="1238.68" y="1594" font-size="72" textLength="45.34" lengthAdjust="spacingAndGlyphs">=</text>
<text x="1300.12" y="1594" font-size="72" textLength="118.83" lengthAdjust="spacingAndGlyphs">1.74</text>
<text x="859.78" y="1385.4" font-size="73" font-style="italic">x</text>
<text x="893.6" y="1385.2" font-size="75">/</text>
<text x="912.5" y="1385.4" font-size="73" font-style="italic">D</text>
<text x="870.78" y="2862" font-size="73" font-style="italic">x</text>
<text x="904.2" y="2861.8" font-size="75">/</text>
<text x="922.5" y="2862" font-size="73" font-style="italic">D</text>
<text x="869.1" y="1467" font-size="66">(<tspan font-style="italic">a</tspan>)</text>
<text x="880.5" y="2946.5" font-size="66">(<tspan font-style="italic">b</tspan>)</text>
<text transform="translate(77.3,656.48) rotate(-90)" x="0" y="0" font-size="74" font-style="italic">Nu</text>
<text transform="translate(103.4,2135.19) rotate(-90)" x="0" y="0" font-size="73" font-style="italic">Nu</text>
</g></svg>
</body></html>
